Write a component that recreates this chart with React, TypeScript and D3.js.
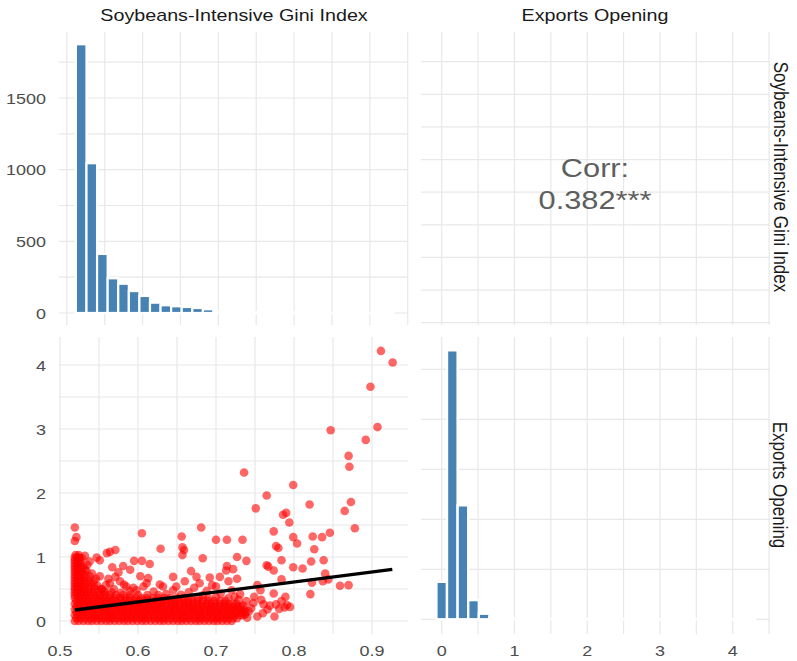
import React from "react";
import * as d3 from "d3";

const W = 797;
const H = 661;

const varNames = ["Soybeans-Intensive Gini Index", "Exports Opening"];

// Diagonal histograms (30 bins each)
const giniBinStart = 0.512;
const giniBinWidth = 0.01397;
const giniCounts = [
  1875, 1045, 412, 242, 204, 153, 119, 72, 54, 47, 42, 35, 26, 12, 9, 7, 5, 4,
  6, 7, 5, 2, 4, 5, 2, 5, 1, 2, 2, 1,
];

const exportsBinStart = -0.073;
const exportsBinWidth = 0.1459;
const exportsCounts = [
  375, 2690, 1140, 192, 56, 22, 11, 9, 8, 9, 5, 3, 4, 2, 1, 1, 2, 0, 1, 1, 1, 1,
  0, 0, 0, 1, 0, 0, 1, 1,
];

const giniTicks = [0.5, 0.6, 0.7, 0.8, 0.9];
const exportsTicks = [0, 1, 2, 3, 4];
const countTicks = [0, 500, 1000, 1500];

const corrTitle = "Corr:";
const corrValue = "0.382***";

// Linear fit of Exports Opening on the Gini index
const fitIntercept = -0.637;
const fitSlope = 1.558;
const fitFrom = 0.519;
const fitTo = 0.926;

// Dense core of the scatter: each row is [exports, gini values in thousandths]
const coreRows: [number, number[]][] = [
  [0.0, [519, 524, 530, 536, 541, 547, 553, 559, 564, 570, 576, 582, 587, 593, 599, 605, 610, 616, 622, 628, 633, 639, 645, 651, 656, 662, 668, 674, 679, 685, 691, 697, 702, 708, 714, 720]],
  [0.045, [521, 526, 532, 539, 544, 550, 555, 562, 567, 573, 579, 584, 591, 596, 602, 607, 613, 620, 625, 631, 636, 642, 648, 654, 659, 665, 671, 677, 682, 688, 694, 700, 705, 711, 716, 722, 727]],
  [0.09, [519, 523, 529, 535, 541, 546, 552, 558, 564, 569, 575, 581, 587, 592, 598, 604, 610, 615, 621, 627, 633, 638, 644, 650, 656, 661, 667, 673, 679, 684, 690, 696, 702, 707, 713, 719, 724, 730, 734]],
  [0.135, [521, 527, 532, 538, 543, 549, 556, 561, 566, 572, 578, 584, 589, 595, 601, 607, 612, 618, 624, 630, 635, 641, 647, 653, 658, 664, 670, 676, 681, 687, 693, 699, 704, 710, 716, 722, 727, 733, 738]],
  [0.18, [519, 524, 530, 535, 541, 547, 553, 558, 564, 570, 576, 581, 587, 593, 599, 604, 610, 616, 622, 627, 633, 639, 645, 650, 656, 662, 668, 673, 679, 685, 691, 696, 702, 708, 714, 719, 725, 731, 736]],
  [0.225, [521, 526, 532, 538, 544, 550, 555, 561, 567, 573, 578, 584, 590, 596, 601, 607, 613, 619, 624, 630, 636, 642, 647, 653, 659, 665, 670, 676, 682, 688, 693, 699, 705, 711, 716, 722, 728, 732]],
  [0.27, [519, 524, 529, 535, 541, 546, 552, 558, 563, 569, 575, 580, 586, 592, 597, 603, 609, 614, 620, 626, 631, 637, 643, 648, 654, 660, 665, 671, 677, 682, 688, 694, 699, 705, 711, 716, 722, 726]],
  [0.315, [521, 526, 532, 537, 543, 549, 555, 560, 566, 572, 578, 583, 589, 595, 601, 606, 612, 618, 624, 629, 635, 641, 647, 652, 658, 664, 670, 676, 683, 690, 698, 706, 712]],
  [0.36, [519, 524, 529, 535, 541, 547, 552, 558, 564, 570, 577, 584, 590, 597, 604, 611, 619, 626, 634, 642, 650, 659, 668, 678, 690]],
  [0.405, [519, 523, 528, 533, 539, 545, 551, 557, 564, 572, 581, 590, 600, 612, 626]],
  [0.45, [519, 522, 526, 531, 536, 542, 549, 557, 566]],
  [0.495, [519, 523, 527, 532, 538, 545, 553]],
  [0.54, [519, 522, 526, 531, 537, 544]],
  [0.585, [519, 523, 528, 533, 540]],
  [0.63, [519, 522, 526, 531, 537]],
  [0.675, [519, 523, 527, 533]],
  [0.72, [519, 522, 526, 531]],
  [0.765, [519, 523, 528]],
  [0.81, [519, 522, 526, 532]],
  [0.855, [519, 523, 527]],
  [0.9, [519, 522, 525]],
  [0.945, [519, 523, 526]],
  [0.99, [519, 522, 525]],
  [1.03, [520, 524]],
];

// Individually visible observations: [gini, exports]
const spreadPoints: [number, number][] = [
  [0.9115, 4.22], [0.9265, 4.04], [0.898, 3.66], [0.847, 2.98], [0.907, 3.03],
  [0.892, 2.83], [0.87, 2.58], [0.871, 2.41], [0.736, 2.32], [0.799, 2.125],
  [0.765, 1.96], [0.751, 1.76], [0.82, 1.82], [0.873, 1.86], [0.865, 1.72],
  [0.79, 1.69], [0.786, 1.66], [0.794, 1.54], [0.878, 1.45], [0.774, 1.4],
  [0.846, 1.38], [0.824, 1.32], [0.836, 1.31], [0.799, 1.31], [0.804, 1.21],
  [0.777, 1.17], [0.78, 1.14], [0.826, 1.12], [0.784, 0.95], [0.822, 0.93],
  [0.838, 0.95], [0.799, 0.84], [0.811, 0.82], [0.765, 0.87], [0.767, 0.85],
  [0.774, 0.79], [0.84, 0.74], [0.784, 0.65], [0.823, 0.6], [0.837, 0.62],
  [0.844, 0.65], [0.859, 0.55], [0.87, 0.56], [0.821, 0.42], [0.753, 0.56],
  [0.749, 0.38], [0.757, 0.48], [0.774, 0.43], [0.789, 0.38], [0.761, 0.26],
  [0.769, 0.24], [0.777, 0.26], [0.791, 0.25], [0.784, 0.31], [0.753, 0.07],
  [0.775, 0.07], [0.739, 0.31], [0.745, 0.2], [0.737, 0.1], [0.727, 1.0],
  [0.739, 0.94], [0.734, 1.27], [0.714, 1.27], [0.7, 1.27], [0.681, 1.46],
  [0.656, 1.32], [0.657, 1.15], [0.659, 1.11], [0.657, 1.03], [0.605, 1.37],
  [0.629, 1.13], [0.683, 0.98], [0.714, 0.86], [0.713, 0.79], [0.722, 0.81],
  [0.705, 0.69], [0.692, 0.68], [0.727, 0.66], [0.668, 0.78], [0.675, 0.69],
  [0.645, 0.69], [0.628, 0.57], [0.613, 0.67], [0.603, 0.7], [0.615, 0.89],
  [0.595, 0.94], [0.605, 0.94], [0.581, 0.86], [0.567, 0.84], [0.564, 1.08],
  [0.571, 1.11], [0.56, 1.06], [0.547, 0.99], [0.551, 0.95], [0.575, 0.76],
  [0.571, 0.69], [0.59, 0.8], [0.551, 0.7], [0.562, 0.66], [0.538, 0.93],
  [0.521, 1.31], [0.519, 1.46], [0.519, 1.25], [0.632, 0.54], [0.649, 0.54],
  [0.66, 0.62], [0.679, 0.59], [0.7, 0.54], [0.716, 0.62], [0.585, 0.54],
  [0.607, 0.54], [0.611, 0.59], [0.564, 0.59], [0.577, 0.62], [0.53, 0.85],
  [0.534, 0.78], [0.538, 0.7], [0.543, 0.62], [0.548, 0.55], [0.553, 0.5],
  [0.535, 0.88], [0.541, 0.74], [0.546, 0.66], [0.556, 0.47], [0.528, 0.98],
  [0.532, 1.02], [0.665, 0.45], [0.688, 0.47], [0.706, 0.43], [0.72, 0.48],
  [0.672, 0.52], [0.695, 0.56], [0.645, 0.48], [0.62, 0.46], [0.598, 0.48],
  [0.724, 0.38], [0.731, 0.42], [0.742, 0.15], [0.748, 0.28], [0.758, 0.33],
  [0.766, 0.18], [0.781, 0.19], [0.788, 0.21], [0.795, 0.22], [0.76, 0.12],
  [0.578, 0.44], [0.589, 0.47], [0.569, 0.5], [0.582, 0.57], [0.594, 0.52],
  [0.559, 0.56], [0.636, 0.42], [0.655, 0.41], [0.683, 0.4], [0.7, 0.38],
  [0.716, 0.36], [0.729, 0.33], [0.735, 0.24], [0.74, 0.05],
];

const FONT = "'Liberation Sans', Arial, Helvetica, sans-serif";
const STRETCH = 1.16;
const GRID = "#e8e8e8";

type TxtProps = {
  x: number;
  y: number;
  size: number;
  fill: string;
  anchor?: "start" | "middle" | "end";
  dy?: string;
  children: React.ReactNode;
};

function Txt({ x, y, size, fill, anchor = "middle", dy, children }: TxtProps) {
  return (
    <text
      transform={`translate(${x},${y}) scale(${STRETCH},1)`}
      textAnchor={anchor}
      dy={dy}
      fontSize={size}
      fill={fill}
      fontFamily={FONT}
    >
      {children}
    </text>
  );
}

function VTxt({ x, y, size, fill, children }: TxtProps) {
  return (
    <text
      transform={`translate(${x},${y}) rotate(90) scale(1,${STRETCH})`}
      textAnchor="middle"
      dominantBaseline="central"
      fontSize={size}
      fill={fill}
      fontFamily={FONT}
    >
      {children}
    </text>
  );
}

const steps = (start: number, step: number, n: number) =>
  d3.range(n).map((i) => +(start + i * step).toFixed(6));

export default function App() {
  // panel extents
  const left = { x0: 59, x1: 408 };
  const right = { x0: 421, x1: 770 };
  const top = { y0: 32, y1: 325 };
  const bottom = { y0: 337, y1: 634 };

  // scales
  const xGiniTop = d3.scaleLinear().domain([0.491, 0.953]).range([60, 410]);
  const yCountTop = d3.scaleLinear().domain([0, 1500]).range([313, 98]);
  const xGiniBot = d3.scaleLinear().domain([0.5, 0.9]).range([60, 372]);
  const yExp = d3.scaleLinear().domain([0, 4]).range([621, 365]);
  const xExp = d3.scaleLinear().domain([0, 4]).range([441.7, 732.7]);
  const yGiniRight = d3.scaleLinear().domain([0.5, 0.9]).range([322.7, 61.7]);
  const yCountBot = d3.scaleLinear().domain([0, 2500]).range([619.3, 369.3]);

  const vGrid = (xs: number[], y0: number, y1: number, key: string) =>
    xs.map((x, i) => (
      <line key={`${key}${i}`} x1={x} x2={x} y1={y0} y2={y1} stroke={GRID} strokeWidth={1.2} />
    ));
  const hGrid = (ys: number[], x0: number, x1: number, key: string) =>
    ys.map((y, i) => (
      <line key={`${key}${i}`} x1={x0} x2={x1} y1={y} y2={y} stroke={GRID} strokeWidth={1.2} />
    ));

  const giniGridTop = steps(0.5, 0.05, 10).map((v) => xGiniTop(v));
  const countGridTop = steps(0, 250, 8).map((v) => yCountTop(v));
  const expGridX = steps(0, 0.5, 10).map((v) => xExp(v));
  const giniGridRight = steps(0.5, 0.05, 9).map((v) => yGiniRight(v));
  const giniGridBot = steps(0.5, 0.05, 9).map((v) => xGiniBot(v));
  const expGridY = steps(0, 0.5, 9).map((v) => yExp(v));
  const countGridBot = steps(0, 500, 6).map((v) => yCountBot(v));

  const corePts: [number, number][] = coreRows.flatMap(([e, gs]) =>
    gs.map((g) => [g / 1000, e] as [number, number])
  );
  const allPts = [...corePts, ...spreadPoints];

  const line = d3
    .line<number>()
    .x((g) => xGiniBot(g))
    .y((g) => yExp(fitIntercept + fitSlope * g));

  const tickColor = "#4d4d4d";
  const stripColor = "#1a1a1a";

  // zero-count bins are still drawn (their outline covers the baseline)
  const barH = (y0: number, y1: number) => Math.max(y0 - y1, 0.01);

  return (
    <svg
      width={W}
      height={H}
      style={{ position: "absolute", left: 0, top: 0, background: "#ffffff" }}
    >
      <rect x={0} y={0} width={W} height={H} fill="#ffffff" />

      {/* top-left: Gini histogram */}
      {vGrid(giniGridTop, top.y0, top.y1, "tlv")}
      {hGrid(countGridTop, left.x0, left.x1, "tlh")}
      {giniCounts.map((c, i) => {
        const xa = xGiniTop(giniBinStart + i * giniBinWidth);
        const xb = xGiniTop(giniBinStart + (i + 1) * giniBinWidth);
        return (
          <rect
            key={`gb${i}`}
            x={xa}
            width={xb - xa}
            y={yCountTop(c)}
            height={barH(yCountTop(0), yCountTop(c))}
            fill="#4682b4"
            stroke="#ffffff"
            strokeWidth={2.2}
          />
        );
      })}

      {/* top-right: correlation */}
      {vGrid(expGridX, top.y0, top.y1, "trv")}
      {hGrid(giniGridRight, right.x0, right.x1, "trh")}
      <Txt x={595} y={176.7} size={26.5} fill="#5e5e5e">
        {corrTitle}
      </Txt>
      <Txt x={595} y={209.3} size={26.5} fill="#5e5e5e">
        {corrValue}
      </Txt>

      {/* bottom-left: scatter with fitted line */}
      {vGrid(giniGridBot, bottom.y0, bottom.y1, "blv")}
      {hGrid(expGridY, left.x0, left.x1, "blh")}
      <g>
        {allPts.map(([g, e], i) => (
          <circle
            key={`p${i}`}
            cx={xGiniBot(g)}
            cy={yExp(e)}
            r={4.3}
            fill="#ff0000"
            fillOpacity={0.6}
          />
        ))}
      </g>
      <path
        d={line([fitFrom, fitTo]) || ""}
        stroke="#000000"
        strokeWidth={3.4}
        fill="none"
      />

      {/* bottom-right: Exports histogram */}
      {vGrid(expGridX, bottom.y0, bottom.y1, "brv")}
      {hGrid(countGridBot, right.x0, right.x1, "brh")}
      {exportsCounts.map((c, i) => {
        const xa = xExp(exportsBinStart + i * exportsBinWidth);
        const xb = xExp(exportsBinStart + (i + 1) * exportsBinWidth);
        return (
          <rect
            key={`eb${i}`}
            x={xa}
            width={xb - xa}
            y={yCountBot(c)}
            height={barH(yCountBot(0), yCountBot(c))}
            fill="#4682b4"
            stroke="#ffffff"
            strokeWidth={2.4}
          />
        );
      })}

      {/* strip labels */}
      <Txt x={234} y={20.7} size={17} fill={stripColor}>
        {varNames[0]}
      </Txt>
      <Txt x={595} y={20.7} size={17} fill={stripColor}>
        {varNames[1]}
      </Txt>
      <VTxt x={781} y={177} size={17} fill={stripColor}>
        {varNames[0]}
      </VTxt>
      <VTxt x={780} y={485} size={17} fill={stripColor}>
        {varNames[1]}
      </VTxt>

      {/* axis labels */}
      {countTicks.map((v) => (
        <Txt key={`ct${v}`} x={46} y={yCountTop(v)} dy="0.36em" anchor="end" size={15.5} fill={tickColor}>
          {d3.format("d")(v)}
        </Txt>
      ))}
      {exportsTicks.map((v) => (
        <Txt key={`ey${v}`} x={46} y={yExp(v)} dy="0.36em" anchor="end" size={15.5} fill={tickColor}>
          {String(v)}
        </Txt>
      ))}
      {giniTicks.map((v) => (
        <Txt key={`gx${v}`} x={xGiniBot(v)} y={656} size={15.5} fill={tickColor}>
          {d3.format(".1f")(v)}
        </Txt>
      ))}
      {exportsTicks.map((v) => (
        <Txt key={`ex${v}`} x={xExp(v)} y={656} size={15.5} fill={tickColor}>
          {String(v)}
        </Txt>
      ))}
    </svg>
  );
}
